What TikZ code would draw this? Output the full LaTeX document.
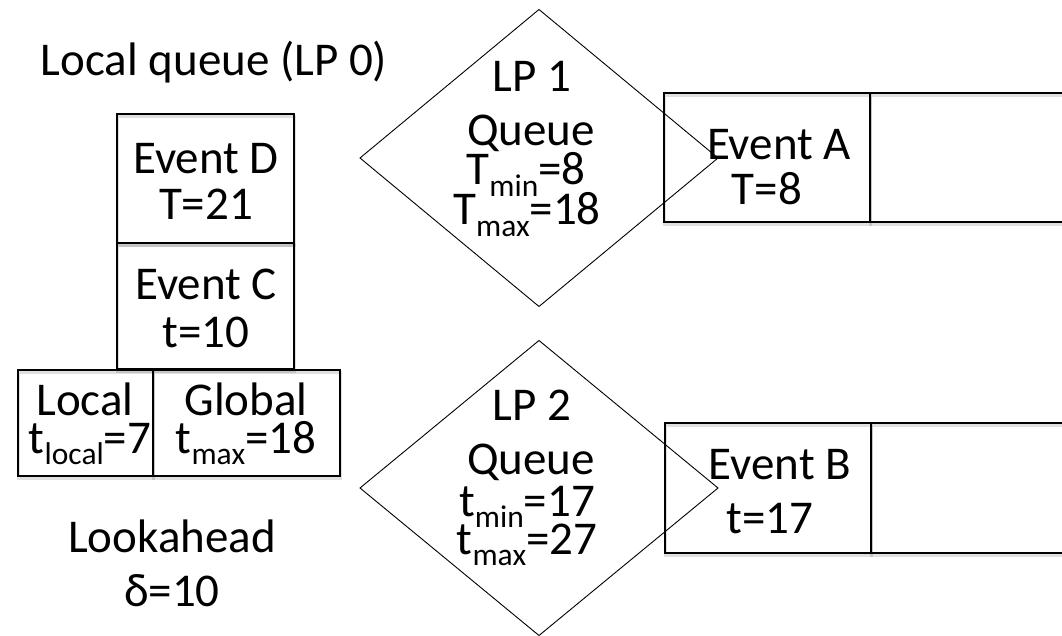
\documentclass[tikz,border=0pt]{standalone}
\usepackage{fontspec}
\setmainfont{Carlito}
\usetikzlibrary{shapes.geometric,backgrounds}
% lowered, smaller subscript text
\newcommand\lowsub[1]{\raisebox{-0.25em}{\fontsize{31.5}{31.5}\selectfont #1}}
\tikzset{
  cell/.style={draw, line width=1.1pt, rectangle, inner sep=0pt, outer sep=0pt},
  boxshadow/.style={draw=black, opacity=0.12, line width=3pt},
  lpbox/.style={draw, line width=0.9pt, diamond, inner sep=0pt, outer sep=0pt,
                minimum width=358pt, minimum height=297pt},
  txt/.style={anchor=base, inner sep=0pt, font=\fontsize{47}{47}\selectfont}
}
\begin{document}
\begin{tikzpicture}[x=1pt, y=-1pt]
  \clip (0,0) rectangle (1062,636);

  % local queue of LP 0
  \node[txt] (title) at (214,76) {Local queue (LP 0)};
  \node[cell, minimum width=177pt, minimum height=129pt] (evD) at (205.5,178.5) {};
  \node[cell, minimum width=177pt, minimum height=126pt] (evC) at (205.5,306) {};
  \node[cell, minimum width=135pt, minimum height=106pt] (loc) at (85.5,423) {};
  \node[cell, minimum width=187pt, minimum height=106pt] (glob) at (246.5,423) {};

  \node[txt] (evD1) at (206,174) {Event D};
  \node[txt] (evD2) at (206,220) {T=21};
  \node[txt] (evC1) at (206,299) {Event C};
  \node[txt] (evC2) at (206,347) {t=10};
  \node[txt] (loc1) at (85,415) {Local};
  \node[txt] (loc2) at (90,453) {t\lowsub{local}=7};
  \node[txt] (glob1) at (246,415) {Global};
  \node[txt] (glob2) at (246,453) {t\lowsub{max}=18};
  \node[txt] (look1) at (172,552) {Lookahead};
  \node[txt] (look2) at (172,606) {δ=10};

  % LP 1 and its queue
  \node[lpbox] (lp1) at (539,158) {};
  \node[txt] (lp1a) at (532,92) {LP 1};
  \node[txt] (lp1b) at (531,146) {Queue};
  \node[txt] (lp1c) at (526,185) {T\lowsub{min}=8};
  \node[txt] (lp1d) at (527,225) {T\lowsub{max}=18};
  \node[cell, minimum width=206pt, minimum height=129pt] (evA) at (767,157.5) {};
  \node[cell, minimum width=230pt, minimum height=129pt] (slotA) at (985,157.5) {};
  \node[txt] (evA1) at (779,160) {Event A};
  \node[txt] (evA2) at (767,205) {T=8};

  % LP 2 and its queue
  \node[lpbox, minimum height=295pt] (lp2) at (539,488) {};
  \node[txt] (lp2a) at (532,420) {LP 2};
  \node[txt] (lp2b) at (531,474) {Queue};
  \node[txt] (lp2c) at (527,516) {t\lowsub{min}=17};
  \node[txt] (lp2d) at (527,554) {t\lowsub{max}=27};
  \node[cell, minimum width=206pt, minimum height=130pt] (evB) at (768,488) {};
  \node[cell, minimum width=230pt, minimum height=130pt] (slotB) at (986,488) {};
  \node[txt] (evB1) at (780,479) {Event B};
  \node[txt] (evB2) at (770,533) {t=17};

  % white page and the soft shadows of the queue cells
  \begin{scope}[on background layer]
    \fill[white] (0,0) rectangle (1062,636);
    \foreach \n in {evD,evC,loc,glob,evA,slotA,evB,slotB}
      \draw[boxshadow] ([shift={(0.3pt,-2.4pt)}]\n.south west)
                       rectangle ([shift={(0.3pt,-2.4pt)}]\n.north east);
  \end{scope}
\end{tikzpicture}
\end{document}
